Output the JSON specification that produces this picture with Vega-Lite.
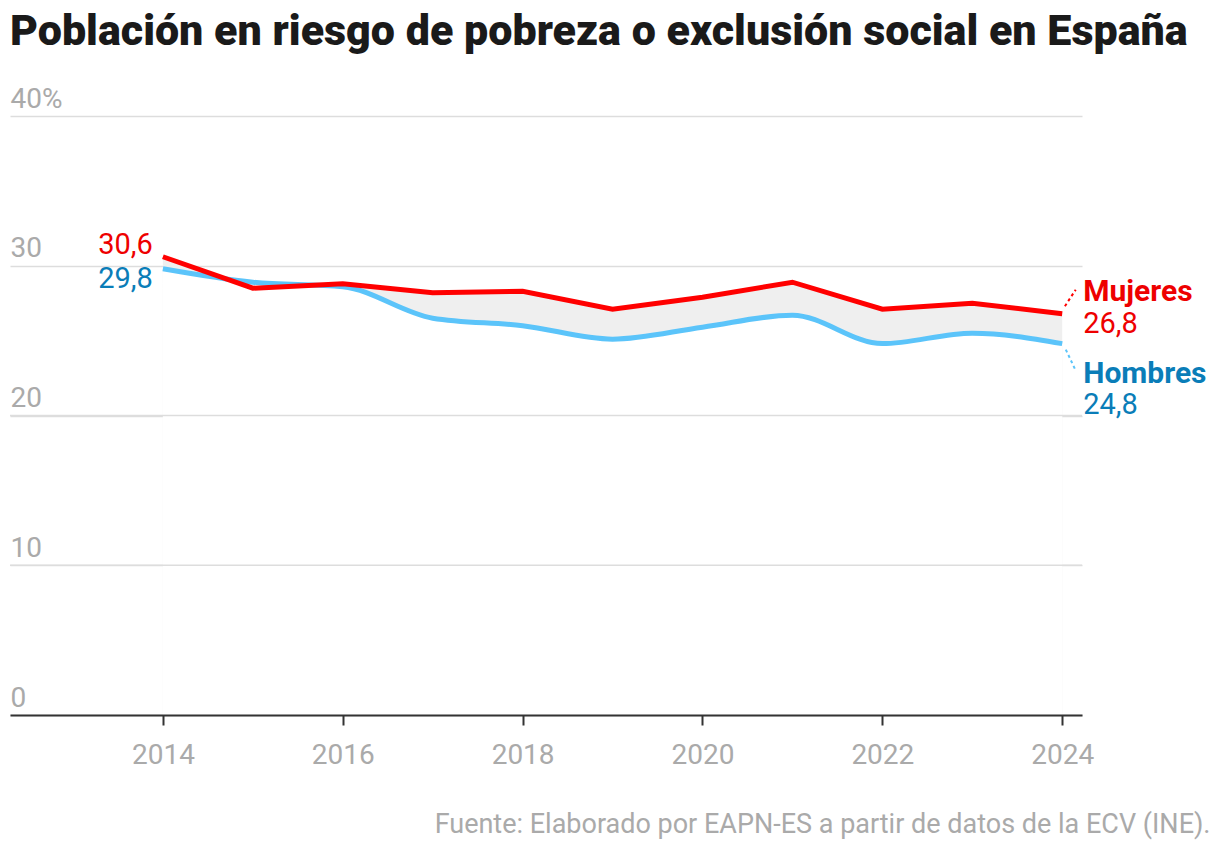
{
  "$schema": "https://vega.github.io/schema/vega-lite/v6.json",
  "width": 1072,
  "height": 599,
  "autosize": {"type": "none"},
  "padding": {"left": 10, "top": 116, "right": 138, "bottom": 137},
  "background": "white",
  "title": {
    "text": "Población en riesgo de pobreza o exclusión social en España",
    "anchor": "start",
    "frame": "group",
    "font": "Roboto",
    "fontSize": 43,
    "fontWeight": 900,
    "color": "#1a1a1a",
    "baseline": "alphabetic",
    "offset": -3
  },
  "config": {
    "view": {"stroke": null},
    "font": "Roboto",
    "locale": {"number": {"decimal": ",", "thousands": ".", "grouping": [3], "currency": ["", " €"]}}
  },
  "datasets": {
    "wide": [
      {"year": 2014, "Mujeres": 30.6, "Hombres": 29.8},
      {"year": 2015, "Mujeres": 28.5, "Hombres": 28.9},
      {"year": 2016, "Mujeres": 28.8, "Hombres": 28.6},
      {"year": 2017, "Mujeres": 28.2, "Hombres": 26.5},
      {"year": 2018, "Mujeres": 28.3, "Hombres": 26.0},
      {"year": 2019, "Mujeres": 27.1, "Hombres": 25.1},
      {"year": 2020, "Mujeres": 27.9, "Hombres": 25.9},
      {"year": 2021, "Mujeres": 28.9, "Hombres": 26.7},
      {"year": 2022, "Mujeres": 27.1, "Hombres": 24.8},
      {"year": 2023, "Mujeres": 27.5, "Hombres": 25.5},
      {"year": 2024, "Mujeres": 26.8, "Hombres": 24.8}
    ],
    "gridlines": [{"level": 10}, {"level": 20}],
    "connectors": [
      {"serie": "Mujeres", "year": 2024.03, "value": 27.3},
      {"serie": "Mujeres", "year": 2024.15, "value": 28.4},
      {"serie": "Hombres", "year": 2024.04, "value": 24.4},
      {"serie": "Hombres", "year": 2024.15, "value": 23.0}
    ]
  },
  "data": {"name": "wide"},
  "encoding": {
    "x": {
      "field": "year",
      "type": "quantitative",
      "scale": {"domain": [2012.3, 2024.22], "nice": false, "zero": false},
      "axis": {
        "values": [2014, 2016, 2018, 2020, 2022, 2024],
        "format": "d",
        "grid": false,
        "domainColor": "#333333",
        "domainWidth": 2,
        "tickColor": "#333333",
        "tickWidth": 2,
        "tickSize": 10,
        "labelFont": "Roboto",
        "labelFontSize": 28,
        "labelColor": "#aaaaaa",
        "labelPadding": 16,
        "title": "Fuente: Elaborado por EAPN-ES a partir de datos de la ECV (INE).",
        "titleFont": "Roboto",
        "titleFontSize": 27,
        "titleFontWeight": "normal",
        "titleColor": "#aaaaaa",
        "titleAnchor": "end",
        "titleAlign": "right",
        "titleBaseline": "alphabetic",
        "titleX": 1200,
        "titleY": 117,
        "zindex": 2
      }
    }
  },
  "layer": [
    {
      "mark": {"type": "area", "color": "#efefef", "interpolate": "linear"},
      "encoding": {
        "y": {
          "field": "Mujeres",
          "type": "quantitative",
          "scale": {"domain": [0, 40], "nice": false},
          "axis": {
            "values": [0, 10, 20, 30, 40],
            "title": null,
            "domain": false,
            "ticks": false,
            "grid": true,
            "gridColor": "#dddddd",
            "gridWidth": 1.5,
            "labelAlign": "left",
            "labelBaseline": "alphabetic",
            "labelPadding": 0,
            "labelOffset": -9,
            "labelFont": "Roboto",
            "labelFontSize": 28,
            "labelColor": "#aaaaaa",
            "labelExpr": "datum.value == 40 ? '40%' : datum.label",
            "zindex": 0
          }
        },
        "y2": {"datum": 0}
      }
    },
    {
      "mark": {"type": "area", "color": "white", "interpolate": "monotone"},
      "encoding": {
        "y": {"field": "Hombres", "type": "quantitative"},
        "y2": {"datum": 0}
      }
    },
    {
      "data": {"name": "gridlines"},
      "mark": {"type": "rule", "color": "#dddddd", "strokeWidth": 1.5},
      "encoding": {
        "x": null,
        "y": {"field": "level", "type": "quantitative"}
      }
    },
    {
      "mark": {"type": "line", "color": "#5bc4fa", "strokeWidth": 5, "interpolate": "monotone"},
      "encoding": {"y": {"field": "Hombres", "type": "quantitative"}}
    },
    {
      "mark": {"type": "line", "color": "#ff0000", "strokeWidth": 5, "interpolate": "linear"},
      "encoding": {"y": {"field": "Mujeres", "type": "quantitative"}}
    },
    {
      "data": {"name": "connectors"},
      "mark": {"type": "line", "strokeWidth": 2, "strokeDash": [3, 3]},
      "encoding": {
        "x": {"field": "year", "type": "quantitative"},
        "y": {"field": "value", "type": "quantitative"},
        "detail": {"field": "serie"},
        "color": {"field": "serie", "type": "nominal", "scale": {"domain": ["Mujeres", "Hombres"], "range": ["#ff0000", "#5bc4fa"]}, "legend": null}
      }
    },
    {
      "transform": [{"filter": "datum.year == 2014"}],
      "mark": {"type": "text", "align": "right", "baseline": "alphabetic", "dx": -10, "dy": -3, "fontSize": 29, "color": "#ee0000"},
      "encoding": {"y": {"field": "Mujeres", "type": "quantitative"}, "text": {"field": "Mujeres", "type": "quantitative", "format": ".1f"}}
    },
    {
      "transform": [{"filter": "datum.year == 2014"}],
      "mark": {"type": "text", "align": "right", "baseline": "alphabetic", "dx": -10, "dy": 19, "fontSize": 29, "color": "#0a7db8"},
      "encoding": {"y": {"field": "Hombres", "type": "quantitative"}, "text": {"field": "Hombres", "type": "quantitative", "format": ".1f"}}
    },
    {
      "transform": [{"filter": "datum.year == 2024"}],
      "mark": {"type": "text", "align": "left", "baseline": "alphabetic", "dx": 21, "dy": -13, "fontSize": 30, "fontWeight": "bold", "color": "#ee0000", "text": "Mujeres"},
      "encoding": {"y": {"field": "Mujeres", "type": "quantitative"}}
    },
    {
      "transform": [{"filter": "datum.year == 2024"}],
      "mark": {"type": "text", "align": "left", "baseline": "alphabetic", "dx": 21, "dy": 19, "fontSize": 29, "color": "#ee0000"},
      "encoding": {"y": {"field": "Mujeres", "type": "quantitative"}, "text": {"field": "Mujeres", "type": "quantitative", "format": ".1f"}}
    },
    {
      "transform": [{"filter": "datum.year == 2024"}],
      "mark": {"type": "text", "align": "left", "baseline": "alphabetic", "dx": 21, "dy": 39, "fontSize": 30, "fontWeight": "bold", "color": "#0a7db8", "text": "Hombres"},
      "encoding": {"y": {"field": "Hombres", "type": "quantitative"}}
    },
    {
      "transform": [{"filter": "datum.year == 2024"}],
      "mark": {"type": "text", "align": "left", "baseline": "alphabetic", "dx": 21, "dy": 70, "fontSize": 29, "color": "#0a7db8"},
      "encoding": {"y": {"field": "Hombres", "type": "quantitative"}, "text": {"field": "Hombres", "type": "quantitative", "format": ".1f"}}
    }
  ]
}
